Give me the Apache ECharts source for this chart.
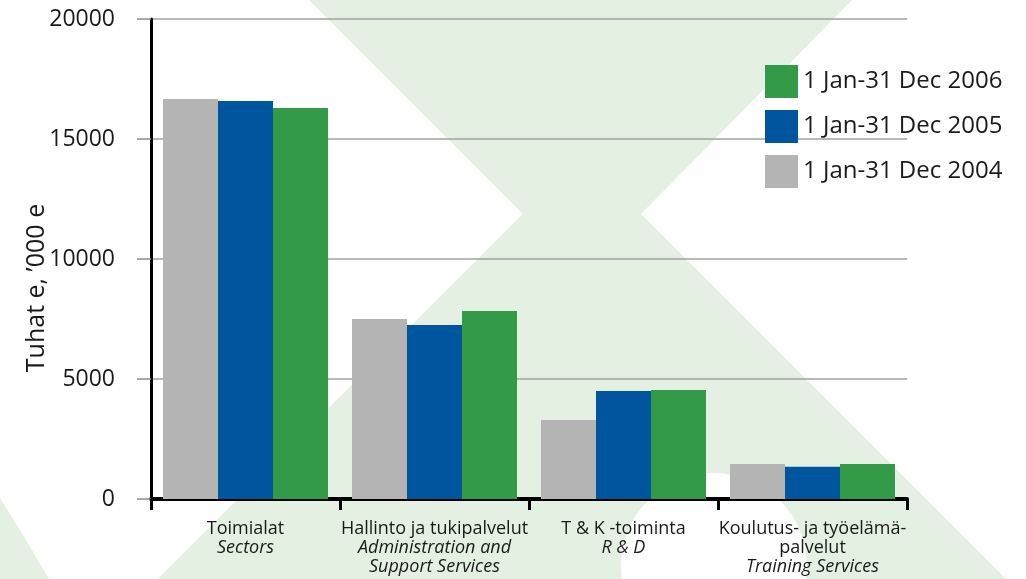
<!DOCTYPE html>
<html>
<head>
<meta charset="UTF-8">
<title>Tuhat e</title>
	<script src="https://cdn.jsdelivr.net/npm/echarts@6/dist/echarts.min.js"></script>
	<style>
		html, body { margin: 0; padding: 0; background: #fff; }
	</style>
</head>
<body>
	<div id="main" style="width: 1026px;height:579px;"></div>
	<script type="text/javascript">
		// data
		var catFi = ['Toimialat', 'Hallinto ja tukipalvelut', 'T & K -toiminta', 'Koulutus- ja työelämä-\npalvelut'];
		var catEn = ['Sectors', 'Administration and\nSupport Services', 'R & D', 'Training Services'];
		var years = ['1 Jan-31 Dec 2004', '1 Jan-31 Dec 2005', '1 Jan-31 Dec 2006'];
		var v2004 = [16670, 7500, 3290, 1460];
		var v2005 = [16580, 7250, 4500, 1340];
		var v2006 = [16290, 7830, 4540, 1460];
		var yTicks = [0, 5000, 10000, 15000, 20000];
		var colors = ['#b4b4b4', '#00569e', '#339a47'];

		var font = 'Open Sans';
		var bg = '#e3f0e2';

		function wrap(tag, s) {
			return s.split('\n').map(function (l) { return '{' + tag + '|' + l + '}'; }).join('\n');
		}

		var myChart = echarts.init(document.getElementById('main'));

		var option = {
			backgroundColor: '#fff',
			animation: false,
			graphic: [
				// watermark shapes behind the plot
				{ type: 'polygon', z: -10, shape: { points: [[309, 0], [852, 0], [641, 214], [1006, 579], [158, 579], [523, 214]] }, style: { fill: bg } },
				{ type: 'circle', z: -9, shape: { cx: 714, cy: 566, r: 93 }, style: { fill: '#fff' } },
				{ type: 'polygon', z: -10, shape: { points: [[0, 498], [20, 530], [49, 579], [0, 579]] }, style: { fill: bg } },
				{
					type: 'text', x: 37, y: 288, rotation: Math.PI / 2,
					style: { text: 'Tuhat e, ’000 e', font: '25px "' + font + '"', fill: '#1a1a1a', textAlign: 'center', textVerticalAlign: 'middle' }
				}
			],
			legend: {
				orient: 'vertical',
				left: 760,
				top: 60,
				itemWidth: 33,
				itemHeight: 33,
				itemGap: 12,
				icon: 'rect',
				data: [years[2], years[1], years[0]],
				textStyle: { fontFamily: font, fontSize: 24, color: '#1a1a1a', padding: [4, 0, 0, 0] }
			},
			grid: { left: 151, right: 119, top: 19, bottom: 80 },
			xAxis: {
				type: 'category',
				data: catFi,
				axisLine: { lineStyle: { color: '#000', width: 4 } },
				axisTick: { show: true, length: 11, lineStyle: { color: '#000', width: 3 } },
				axisLabel: {
					margin: 20,
					interval: 0,
					formatter: function (val, idx) {
						return wrap('a', catFi[idx]) + '\n' + wrap('b', catEn[idx]);
					},
					rich: {
						a: { fontFamily: font, fontSize: 18, lineHeight: 19, color: '#1a1a1a' },
						b: { fontFamily: font, fontSize: 18, lineHeight: 19, color: '#1a1a1a', fontStyle: 'italic' }
					}
				}
			},
			yAxis: {
				type: 'value',
				min: yTicks[0],
				max: yTicks[yTicks.length - 1],
				interval: yTicks[1] - yTicks[0],
				axisLine: { show: true, lineStyle: { color: '#000', width: 3 } },
				axisTick: { show: true, length: 14, lineStyle: { color: '#8c8c8c', width: 1.5 } },
				axisLabel: {
					margin: 36, fontFamily: font, fontSize: 23, color: '#1a1a1a',
					formatter: function (v) { return String(v); }
				},
				splitLine: { lineStyle: { color: '#a0a0a0', width: 1.5 } }
			},
			series: [
				{ name: years[0], type: 'bar', data: v2004, barWidth: 55, barGap: '0%', itemStyle: { color: colors[0] } },
				{ name: years[1], type: 'bar', data: v2005, barWidth: 55, barGap: '0%', itemStyle: { color: colors[1] } },
				{ name: years[2], type: 'bar', data: v2006, barWidth: 55, barGap: '0%', itemStyle: { color: colors[2] } }
			]
		};

		myChart.setOption(option);
	</script>
</body>
</html>
